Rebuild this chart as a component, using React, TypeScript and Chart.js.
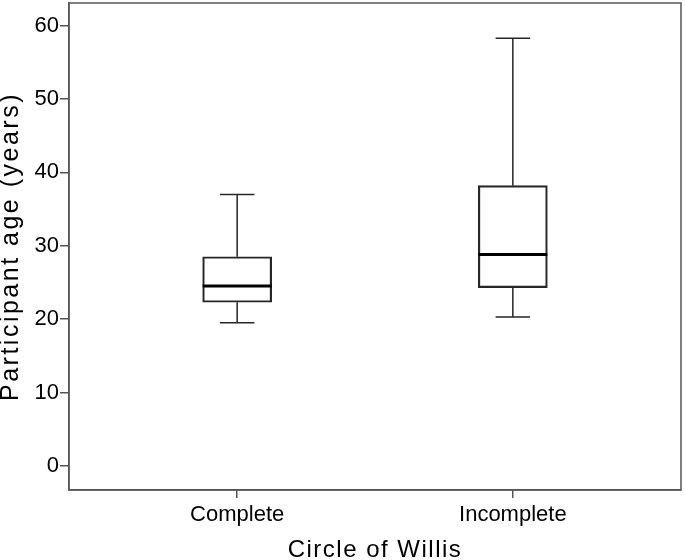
import React, { useEffect, useRef } from "react";
import { Chart, registerables } from "chart.js";

Chart.register(...registerables);

const categories = ["Complete", "Incomplete"];
const categoryPositions = [1, 2];
const whiskerMin = [19.5, 20.3];
const q1 = [22.3, 24.3];
const median = [24.5, 28.8];
const q3 = [28.5, 38.2];
const whiskerMax = [37.0, 58.3];
const yTicks = [0, 10, 20, 30, 40, 50, 60];

const FONT = "'Liberation Sans', Arial, Helvetica, sans-serif";
const LINE = "#262626";
const FRAME = "#555555";

const spacedTitle = (px: string) => (scale: any) => {
  if (scale.__wrapped) return;
  const orig = Object.getPrototypeOf(scale).drawTitle;
  scale.drawTitle = function () {
    const ctx = this.ctx;
    ctx.save();
    (ctx as any).letterSpacing = px;
    orig.call(this);
    ctx.restore();
  };
  scale.__wrapped = true;
};

const boxPlugin = {
  id: "boxWhiskers",
  afterDatasetsDraw(chart: any) {
    const { ctx, scales } = chart;
    const xs = scales.x;
    const ys = scales.y;
    const meta = chart.getDatasetMeta(0);
    ctx.save();
    categoryPositions.forEach((pos, i) => {
      const el = meta.data[i];
      const w = el ? el.width : 69;
      const cx = xs.getPixelForValue(pos);
      const yMin = ys.getPixelForValue(whiskerMin[i]);
      const yQ1 = ys.getPixelForValue(q1[i]);
      const yMed = ys.getPixelForValue(median[i]);
      const yQ3 = ys.getPixelForValue(q3[i]);
      const yMax = ys.getPixelForValue(whiskerMax[i]);
      const cap = w / 4;
      ctx.strokeStyle = LINE;
      ctx.lineWidth = 1.5;
      ctx.beginPath();
      ctx.moveTo(cx, yQ3);
      ctx.lineTo(cx, yMax);
      ctx.moveTo(cx - cap, yMax);
      ctx.lineTo(cx + cap, yMax);
      ctx.moveTo(cx, yQ1);
      ctx.lineTo(cx, yMin);
      ctx.moveTo(cx - cap, yMin);
      ctx.lineTo(cx + cap, yMin);
      ctx.stroke();
      ctx.lineWidth = 3;
      ctx.strokeStyle = "#000000";
      ctx.beginPath();
      ctx.moveTo(cx - w / 2, yMed);
      ctx.lineTo(cx + w / 2, yMed);
      ctx.stroke();
    });
    ctx.restore();
  },
  afterDraw(chart: any) {
    const { ctx, chartArea } = chart;
    ctx.save();
    ctx.strokeStyle = FRAME;
    ctx.lineWidth = 1.5;
    ctx.strokeRect(
      chartArea.left,
      chartArea.top,
      chartArea.right - chartArea.left,
      chartArea.bottom - chartArea.top
    );
    ctx.restore();
  },
};

export default function App() {
  const ref = useRef<HTMLCanvasElement | null>(null);
  useEffect(() => {
    if (!ref.current) return;
    const chart = new Chart(ref.current, {
      type: "bar",
      data: {
        datasets: [
          {
            data: categoryPositions.map((p, i) => ({ x: p, y: [q1[i], q3[i]] })) as any,
            backgroundColor: "rgba(255,255,255,0)",
            borderColor: LINE,
            borderWidth: 1.5,
            borderSkipped: false,
            barThickness: 69,
          },
        ],
      },
      options: {
        responsive: false,
        animation: false,
        layout: { padding: { top: 3, right: 4, bottom: 0, left: 0 } },
        plugins: { legend: { display: false }, tooltip: { enabled: false } },
        scales: {
          x: {
            type: "linear",
            min: 0.39,
            max: 2.61,
            offset: false,
            afterBuildTicks: (s: any) => {
              s.ticks = categoryPositions.map((v) => ({ value: v }));
            },
            afterFit: (s: any) => {
              s.height = 70;
              s.paddingLeft = 0;
              s.paddingRight = 0;
              spacedTitle("1.5px")(s);
            },
            ticks: {
              autoSkip: false,
              maxRotation: 0,
              padding: 4,
              color: "#000",
              font: { family: FONT, size: 22 },
              callback: (v: any) => categories[categoryPositions.indexOf(Number(v))] ?? "",
            },
            grid: { offset: false, drawOnChartArea: false, tickLength: 8, color: FRAME, lineWidth: 1.5 },
            border: { display: true, color: FRAME, width: 1.5 },
            title: {
              display: true,
              text: "Circle of Willis",
              color: "#000",
              font: { family: FONT, size: 24, lineHeight: 1 },
              padding: { top: 0, bottom: -2 },
            },
          },
          y: {
            type: "linear",
            min: -3.3,
            max: 63.1,
            afterBuildTicks: (s: any) => {
              s.ticks = yTicks.map((v) => ({ value: v }));
            },
            afterFit: (s: any) => {
              s.width = 69;
              s.paddingTop = 0;
              s.paddingBottom = 0;
              spacedTitle("2.5px")(s);
            },
            ticks: {
              padding: 1,
              color: "#000",
              font: { family: FONT, size: 22 },
            },
            grid: { drawOnChartArea: false, tickLength: 9, color: FRAME, lineWidth: 1.5 },
            border: { display: true, color: FRAME, width: 1.5 },
            title: {
              display: true,
              text: "Participant age (years)",
              color: "#000",
              font: { family: FONT, size: 25, lineHeight: 1 },
              padding: { top: -1, bottom: 0 },
            },
          },
        },
      },
      plugins: [boxPlugin],
    });
    return () => chart.destroy();
  }, []);
  return (
    <div style={{ position: "absolute", left: 0, top: 0, width: 685, height: 560, background: "#fff" }}>
      <canvas ref={ref} width={685} height={560} style={{ display: "block" }} />
    </div>
  );
}
